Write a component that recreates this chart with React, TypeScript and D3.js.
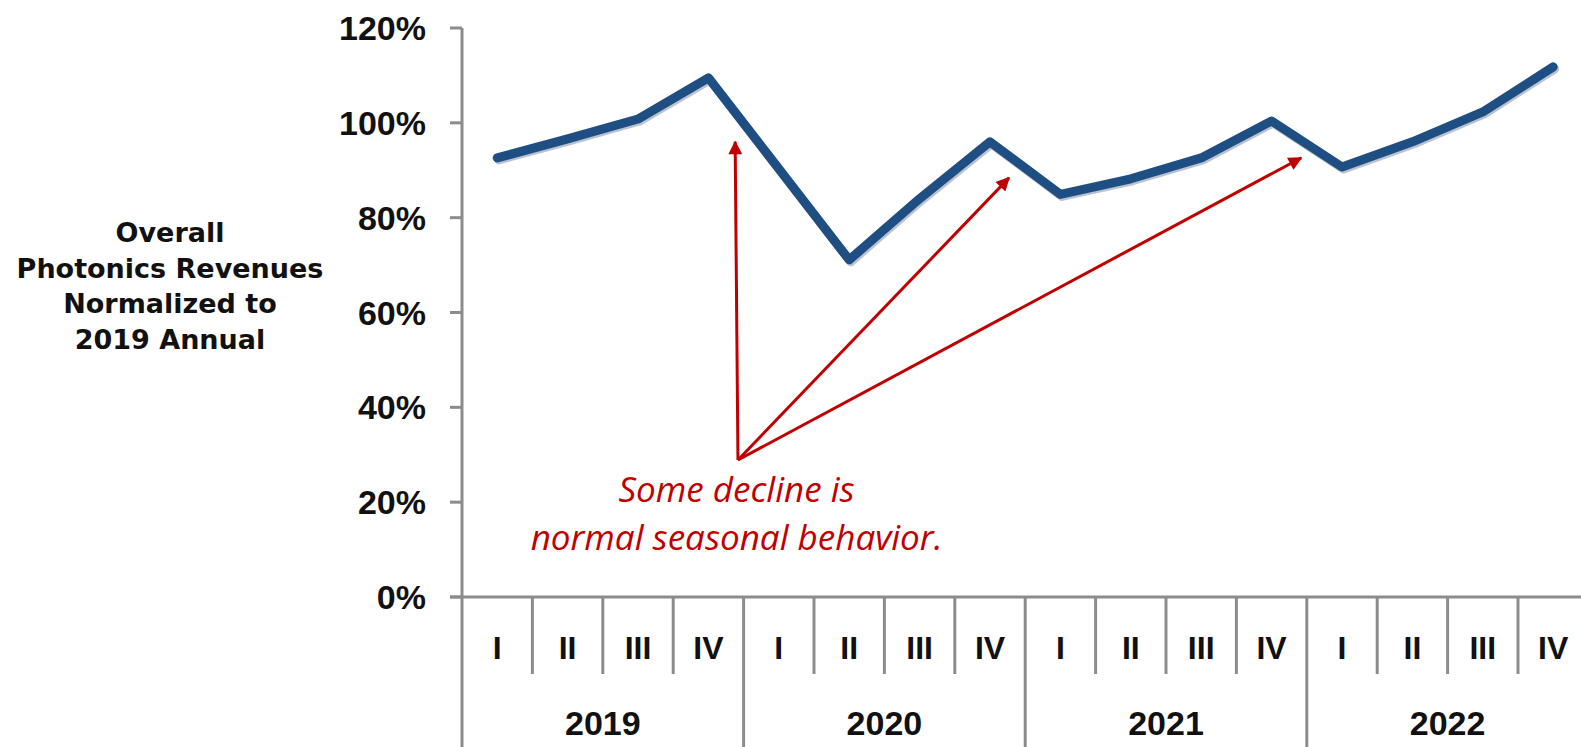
import React from "react";
import * as d3 from "d3";

// quarterly revenue, % of 2019 annual average
const years = ["2019", "2020", "2021", "2022"];
const quarters = ["I", "II", "III", "IV"];
const revenue = [
  92.6, 96.6, 100.8, 109.5,
  90.3, 71.1, 84.0, 96.0,
  84.9, 88.2, 92.6, 100.4,
  90.7, 96.0, 102.3, 111.8,
];
const yTicks = [0, 20, 40, 60, 80, 100, 120];
const titleLines = ["Overall", "Photonics Revenues", "Normalized to", "2019 Annual"];
const noteLines = ["Some decline is", "normal seasonal behavior."];

// annotation arrows: [quarter position, value]
const arrowFrom = [3.42, 28.9];
const arrowTips = [
  [3.38, 96.0],
  [7.27, 88.4],
  [11.42, 92.6],
];

export default function App() {
  const width = 1581,
    height = 747;
  const marginLeft = 462,
    marginTop = 28,
    axisY = 597;
  const step = 70.4;

  const n = years.length * quarters.length;
  const x = d3
    .scaleLinear()
    .domain([0, n])
    .range([marginLeft, marginLeft + n * step]);
  const y = d3.scaleLinear().domain([0, 120]).range([axisY, marginTop]);
  const cx = (i: number) => x(i + 0.5);

  const line = d3
    .line<number>()
    .x((_, i) => cx(i))
    .y((d) => y(d));

  const axisColor = "#8c8c8c";
  const red = "#c00000";
  const bold = "'Liberation Sans', Arial, sans-serif";

  return (
    <svg
      width={width}
      height={height}
      style={{ position: "absolute", left: 0, top: 0, background: "#fff" }}
    >
      <defs>
        <marker
          id="head"
          viewBox="0 0 10 10"
          refX="9"
          refY="5"
          markerWidth="5"
          markerHeight="4.6"
          orient="auto"
          markerUnits="strokeWidth"
        >
          <path d="M0,0 L10,5 L0,10 z" fill={red} />
        </marker>
      </defs>

      {/* y axis title */}
      <g
        fontFamily="'DejaVu Sans', sans-serif"
        fontWeight="bold"
        fontSize={27}
        fill="#111"
        textAnchor="middle"
      >
        {titleLines.map((t, i) => (
          <text key={t} x={170} y={242 + i * 35.5}>
            {t}
          </text>
        ))}
      </g>

      {/* y axis */}
      <line x1={marginLeft} x2={marginLeft} y1={marginTop} y2={height} stroke={axisColor} strokeWidth={3} />
      {yTicks.map((t) => (
        <g key={t}>
          <line x1={marginLeft - 12} x2={marginLeft} y1={y(t)} y2={y(t)} stroke={axisColor} strokeWidth={3} />
          <text
            x={426}
            y={y(t) + 12}
            textAnchor="end"
            fontFamily={bold}
            fontWeight="bold"
            fontSize={34}
            fill="#111"
          >
            {t}%
          </text>
        </g>
      ))}

      {/* x axis */}
      <line x1={marginLeft - 12} x2={width} y1={axisY} y2={axisY} stroke={axisColor} strokeWidth={3} />
      {d3.range(1, n + 1).map((i) => (
        <line
          key={i}
          x1={x(i)}
          x2={x(i)}
          y1={axisY}
          y2={i % 4 === 0 ? height : 674}
          stroke={axisColor}
          strokeWidth={3}
        />
      ))}
      {revenue.map((_, i) => (
        <text
          key={i}
          x={cx(i)}
          y={659}
          textAnchor="middle"
          fontFamily={bold}
          fontWeight="bold"
          fontSize={32}
          fill="#111"
        >
          {quarters[i % 4]}
        </text>
      ))}
      {years.map((yr, j) => (
        <text
          key={yr}
          x={x(j * 4 + 2)}
          y={735}
          textAnchor="middle"
          fontFamily={bold}
          fontWeight="bold"
          fontSize={34}
          fill="#111"
        >
          {yr}
        </text>
      ))}

      {/* series, with a soft shadow like the original */}
      <path
        d={line(revenue) ?? ""}
        fill="none"
        stroke="#8a9bb3"
        strokeWidth={9}
        strokeLinejoin="round"
        strokeLinecap="round"
        transform="translate(1.5,2)"
        opacity={0.6}
      />
      <path
        d={line(revenue) ?? ""}
        fill="none"
        stroke="#1f4e82"
        strokeWidth={9}
        strokeLinejoin="round"
        strokeLinecap="round"
      />

      {/* annotation */}
      {arrowTips.map(([q, v], i) => (
        <line
          key={i}
          x1={cx(arrowFrom[0])}
          y1={y(arrowFrom[1])}
          x2={cx(q)}
          y2={y(v)}
          stroke={red}
          strokeWidth={3}
          markerEnd="url(#head)"
        />
      ))}
      <g
        fontFamily="'Open Sans', sans-serif"
        fontStyle="italic"
        fontSize={35}
        fill={red}
        textAnchor="middle"
      >
        {noteLines.map((t, i) => (
          <text key={t} x={cx(3.4)} y={y(20) + i * 48}>
            {t}
          </text>
        ))}
      </g>
    </svg>
  );
}
